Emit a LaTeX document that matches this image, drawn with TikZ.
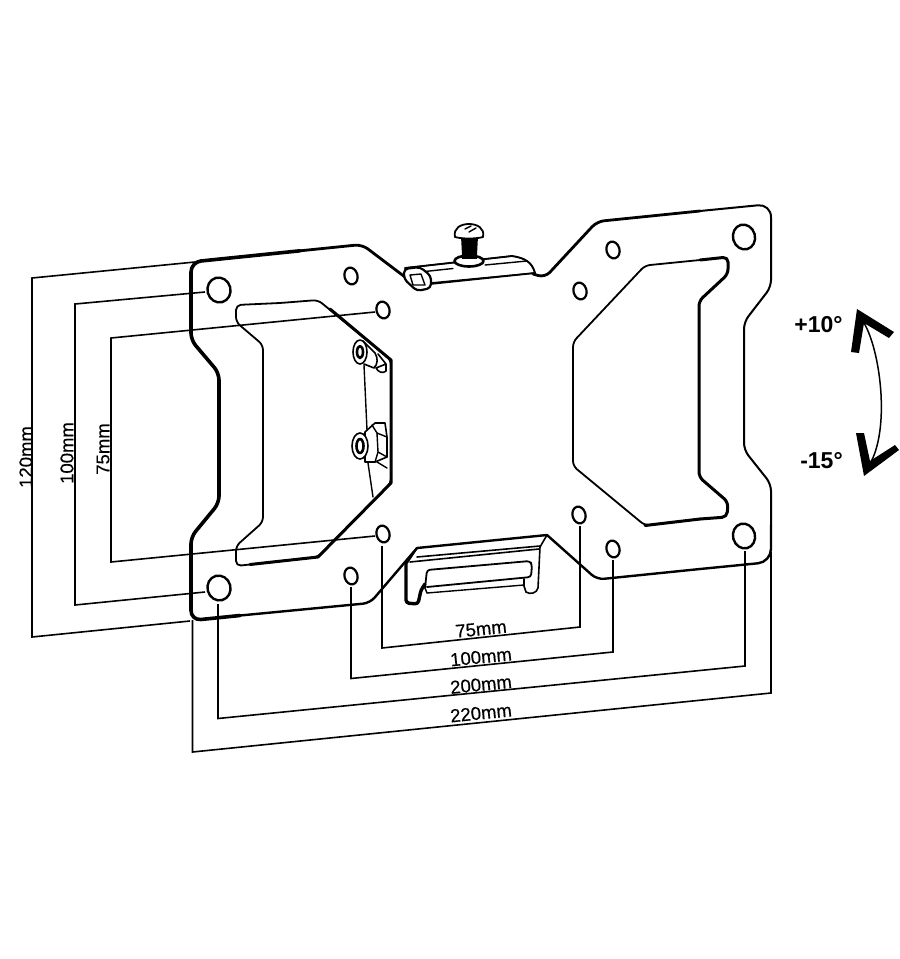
\documentclass[tikz,border=0pt]{standalone}
\usepackage{fontspec}
\setmainfont{Liberation Sans}
\newfontfamily\dimfont[FakeBold=0.4]{Liberation Sans}
\tikzset{
  dimline/.style={draw=black,line width=1.6pt,line join=miter},
  plateedge/.style={draw=black,line width=2.4pt,rounded corners=7pt,line cap=round,line join=round},
  heavyedge/.style={draw=black,line width=3.6pt,rounded corners=7pt,line cap=round,line join=round},
  winedge/.style={draw=black,line width=1.8pt,rounded corners=5pt,line cap=round,line join=round},
  heavywin/.style={draw=black,line width=3pt,rounded corners=5pt,line cap=round,line join=round},
  bighole/.style={draw=black,line width=2.4pt},
  smallhole/.style={draw=black,line width=2.2pt},
  fine/.style={draw=black,line width=1.4pt,line join=round,line cap=round},
  dimlabel/.style={font=\dimfont\fontsize{18.5}{19}\selectfont,inner sep=0pt},
  anglabel/.style={font=\fontsize{23}{24}\selectfont\bfseries,inner sep=0pt},
}
\begin{document}
\begin{tikzpicture}[x=1pt,y=-1pt]
\useasboundingbox (0,0) rectangle (900,959);
% plate outline
\path[plateedge,line width=2.8pt] (405,277) -- (362,244.5) -- (300,250.8);
\path[heavyedge,rounded corners=10pt] (300,250.8) -- (191,262) -- (191,300);
\path[heavyedge] (191,300) -- (191,340) -- (219,373) -- (219,503) -- (191,537) -- (191,580);
\path[heavyedge,rounded corners=10pt] (191,580) -- (191,620.5) -- (240,615.5);
\path[plateedge] (240,615.5) -- (370,603) -- (417,548);
\path[plateedge,rounded corners=0pt] (417,548) -- (547,535);
\path[plateedge] (547,535) -- (597,579.5) -- (700,569);
\path[plateedge,rounded corners=13pt] (700,569) -- (771,562) -- (771,525);
\path[plateedge,line width=2pt] (771,525) -- (771,484) -- (744,450) -- (744,322) -- (771,287) -- (771,250);
\path[plateedge,line width=2pt,rounded corners=13pt] (771,250) -- (771,204) -- (700,211);
\path[plateedge,line width=2.8pt] (700,211) -- (597,221.5) -- (545,277.5) -- (533,274);
% slot outlines
\path[winedge] (280,303) -- (318,300) -- (391,360) -- (391,483) -- (318,557) -- (236,566) -- (236,546) -- (263,522) -- (263,345) -- (236,322) -- (236,305) -- cycle;
\path[heavywin,rounded corners=0pt] (330,309) -- (391,360) -- (391,483) -- (318,557) -- (250,564.5);
\path[winedge] (700,260) -- (645,265.5) -- (573,342) -- (573,466) -- (645,525.5) -- (700,519);
\path[heavywin] (700,260) -- (728,257) -- (728,274) -- (699,301) -- (699,477) -- (728,502) -- (727,517) -- (700,519);
\path[heavywin,rounded corners=0pt] (645,525.5) -- (700,519);
% holes
\path[bighole] (219,290) ellipse[x radius=11.5,y radius=12.5,rotate=15];
\path[bighole] (219,588) ellipse[x radius=11.5,y radius=12.5,rotate=15];
\path[bighole] (744,237) ellipse[x radius=11,y radius=12.5,rotate=15];
\path[bighole] (744,536) ellipse[x radius=11,y radius=12.5,rotate=15];
\foreach \hx/\hy in {351/276,383/310,383/534,351/576,579/515,613/549,613/250,580/291}
  \path[smallhole] (\hx,\hy) ellipse[x radius=6.5,y radius=8.5,rotate=15];
% vertical-side dimensions
\path[dimline] (195,262) -- (32,278) -- (32,637) -- (190,621);
\path[dimline] (205,292) -- (75,304) -- (75,605) -- (205,592);
\path[dimline] (375,312) -- (111,338) -- (111,562) -- (375,536);
% bottom dimensions
\path[dimline] (192.5,620) -- (192.5,752) -- (771,693) -- (771,552);
\path[dimline] (218,604) -- (218,718.5) -- (745,666) -- (745,551);
\path[dimline] (351,587) -- (351,678.5) -- (613,652) -- (613,560);
\path[dimline] (382,546) -- (382,648) -- (580,627) -- (580,526);
% labels
\node[dimlabel,rotate=5.7] (d75b) at (481,629) {75mm};
\node[dimlabel,rotate=5.7] (d100b) at (481,657) {100mm};
\node[dimlabel,rotate=5.7] (d200b) at (481,684.5) {200mm};
\node[dimlabel,rotate=5.7] (d220b) at (481,713) {220mm};
\node[dimlabel,rotate=90] (d120l) at (26,457) {120mm};
\node[dimlabel,rotate=90] (d100l) at (67,453) {100mm};
\node[dimlabel,rotate=90] (d75l) at (103,449) {75mm};
\node[anglabel] (plus) at (818.5,325) {+10°};
\node[anglabel] (minus) at (821.5,461) {-15°};
% tilt arrow
\fill (857,309) -- (894,332) -- (889,338) -- (864,323) -- (859,353) -- (851,352) -- cycle;
\fill (864,476) -- (856,433) -- (864,433) -- (870,461) -- (895,445) -- (899,450) -- cycle;
\draw[line width=1.5pt] (864,323) .. controls (880,350) and (890,425) .. (871,462);
% top screw and flange
\filldraw[fine,fill=white] (405,268) -- (512,256) .. controls (525,258) and (532,262) .. (535,273) -- (430,283) -- (420,290) -- cycle;
\path[fine,line width=1.8pt] (405,268) -- (512,256) .. controls (525,258) and (532,262) .. (535,273) -- (430,284);
\path[fine] (420,272) -- (453,268.5);
\path[fine] (485,265) -- (527,261);
\filldraw[fine,line width=2.2pt,fill=white,rounded corners=4pt] (404,269) -- (420,267) -- (431,276) -- (431,288) -- (417,291) -- (404,279) -- cycle;
\path[fine] (410,275) -- (421,274) -- (425,285) -- (413,285) -- cycle;
\fill (461,236) -- (478,236) -- (477,255) -- (462,255) -- cycle;
\filldraw[fine,line width=2.6pt,fill=white] (469,261) ellipse[x radius=14.5,y radius=5.5];
\fill (462,252) rectangle (477,259);
\filldraw[fine,line width=1.8pt,fill=white] (455,237) .. controls (453,228) and (461,224) .. (469,224) .. controls (477,224) and (485,228) .. (483,237) .. controls (476,239) and (462,239) .. (455,237) -- cycle;
\path[fine] (465,229) -- (471,226);
\path[fine] (469,232) -- (476,228);
% nuts
\path[fine] (364,365) -- (367,430);
\path[fine] (368,463) -- (373,497);
\path[fine,line width=1.6pt] (363,341) -- (375,353) .. controls (378,358) and (378,364) .. (374,368) -- (364,364);
\path[fine,line width=1.6pt] (378,354) -- (386,364) -- (376,368) .. controls (378,372) and (383,374) .. (386,371) -- (386,364);
\filldraw[fine,line width=1.6pt,fill=white] (360,352) ellipse[x radius=7,y radius=12];
\path[fine,line width=2.6pt] (360,352) ellipse[x radius=3,y radius=6];
\filldraw[fine,line width=1.6pt,fill=white] (365,432) -- (375,423) -- (385,423) -- (387,437) -- (387,457) -- (375,462) -- (365,462) -- cycle;
\path[fine] (372,425) -- (377,433) -- (387,437);
\path[fine] (377,433) -- (378,452) -- (375,462);
\path[fine] (378,452) -- (387,457);
\path[fine] (377,462) -- (387,468);
\filldraw[fine,line width=1.6pt,fill=white] (360,446) ellipse[x radius=8,y radius=13];
\path[fine,line width=2.6pt] (360,446) ellipse[x radius=3.5,y radius=7];
% bottom bracket
\path[fine,line width=1.8pt] (417,548) -- (407,563);
\path[fine,line width=1.6pt] (417,557) -- (540,546);
\path[fine,line width=1.6pt] (410,562) -- (539,549);
\path[fine,line width=1.6pt] (547,535) -- (540,547) -- (538,588) .. controls (537,593) and (530,595) .. (526,592) -- (524,586) -- (524,579);
\path[fine,line width=3.4pt,rounded corners=3pt] (406,563) -- (406,603) -- (418,604) -- (421,590) -- (425,584);
\path[fine,line width=1.8pt,rounded corners=3pt] (425,588) -- (427,570) -- (530,561) -- (532,565) -- (531,577) -- (427,587);
\path[fine] (427,593) -- (524,585);
\path[fine] (425,588) -- (427,593);
\end{tikzpicture}
\end{document}
